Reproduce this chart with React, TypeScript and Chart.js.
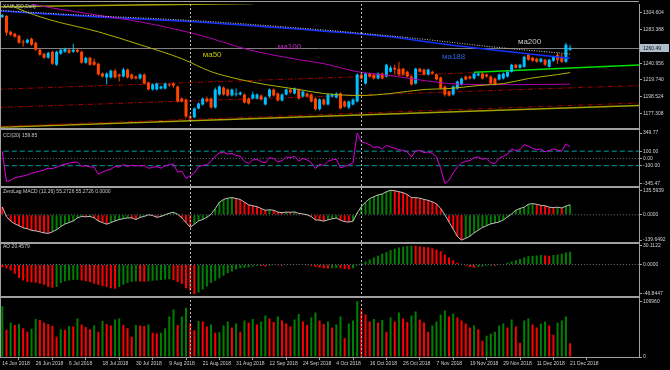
import { useEffect, useRef } from 'react';
import { Chart, registerables } from 'chart.js';

Chart.register(...registerables);

// ---------- axis labels ----------
const xTickBars = [0, 8, 16, 24, 32, 40, 48, 56, 64, 72, 80, 88, 96, 104, 112, 120, 128, 136];
const xTickLabels = ['14 Jun 2018', '26 Jun 2018', '6 Jul 2018', '18 Jul 2018', '30 Jul 2018', '9 Aug 2018', '21 Aug 2018', '31 Aug 2018', '12 Sep 2018', '24 Sep 2018', '4 Oct 2018', '16 Oct 2018', '26 Oct 2018', '7 Nov 2018', '19 Nov 2018', '29 Nov 2018', '11 Dec 2018', '21 Dec 2018'];
const priceTicks = [1304.604, 1283.388, 1262.172, 1240.956, 1219.74, 1198.524, 1177.308];
const cciTicks = [349.77, 100, 0, -100, -345.47];
const macdTicks = [135.5939, 0, -139.6492];
const aoTicks = [30.1122, 0, -46.8447];
const volTicks = [109960, 0];
const cciLevels = [100, -100];
const panelTitles = ['XAUUSD,Daily', 'CCI(20) 159.85', 'ZeroLag MACD (12,26) 55.2726 55.2726 0.0000', 'AO 20.4579'];

// ---------- price data (daily OHLC) ----------
const open = [1299.6, 1300.8, 1280.7, 1278.1, 1275.6, 1268.1, 1266.8, 1271.8, 1266.8, 1258.0, 1252.9, 1247.9, 1255.5, 1239.1, 1252.9, 1255.5, 1258.0, 1255.5, 1258.0, 1255.5, 1241.6, 1247.9, 1242.9, 1240.3, 1227.7, 1222.7, 1222.7, 1231.5, 1226.5, 1223.9, 1232.8, 1226.5, 1223.9, 1221.4, 1226.5, 1216.4, 1207.6, 1207.6, 1208.8, 1208.8, 1213.9, 1215.1, 1211.3, 1196.2, 1195.0, 1173.5, 1172.3, 1183.6, 1188.7, 1196.2, 1196.2, 1184.9, 1201.3, 1210.1, 1207.6, 1200.0, 1201.3, 1201.3, 1201.3, 1196.2, 1196.2, 1196.2, 1200.0, 1188.7, 1198.7, 1207.6, 1202.5, 1193.7, 1201.3, 1207.6, 1202.5, 1207.6, 1198.7, 1202.5, 1201.3, 1196.2, 1182.4, 1195.0, 1188.7, 1198.7, 1197.5, 1202.5, 1192.4, 1184.9, 1188.7, 1192.4, 1226.5, 1215.1, 1227.7, 1226.5, 1221.4, 1227.7, 1223.9, 1230.2, 1235.3, 1234.0, 1234.0, 1230.2, 1223.9, 1215.1, 1234.0, 1232.8, 1226.5, 1230.2, 1226.5, 1222.7, 1211.3, 1205.0, 1201.3, 1208.8, 1213.9, 1223.9, 1223.9, 1221.4, 1225.2, 1227.7, 1226.5, 1223.9, 1221.4, 1220.2, 1221.4, 1223.9, 1230.2, 1239.1, 1235.3, 1236.5, 1251.7, 1247.9, 1246.6, 1242.9, 1245.4, 1236.5, 1244.1, 1251.7, 1249.2, 1242.9, 1258.0];
const high = [1303.4, 1302.1, 1281.9, 1279.4, 1276.9, 1270.6, 1271.8, 1273.1, 1268.1, 1259.2, 1254.2, 1255.5, 1256.7, 1256.7, 1259.2, 1260.5, 1259.2, 1265.5, 1259.2, 1256.7, 1249.2, 1249.2, 1246.6, 1241.6, 1229.0, 1229.0, 1232.8, 1234.0, 1227.7, 1235.3, 1234.0, 1227.7, 1225.2, 1227.7, 1227.7, 1217.6, 1215.1, 1216.4, 1212.6, 1216.4, 1215.1, 1216.4, 1212.6, 1197.5, 1196.2, 1176.0, 1184.9, 1191.2, 1197.5, 1198.7, 1197.5, 1210.1, 1212.6, 1211.3, 1208.8, 1208.8, 1208.8, 1205.0, 1202.5, 1197.5, 1205.0, 1202.5, 1201.3, 1198.7, 1208.8, 1208.8, 1203.8, 1202.5, 1208.8, 1208.8, 1210.1, 1208.8, 1206.3, 1203.8, 1202.5, 1197.5, 1196.2, 1196.2, 1202.5, 1202.5, 1203.8, 1203.8, 1193.7, 1193.7, 1196.2, 1227.7, 1229.0, 1229.0, 1229.0, 1227.7, 1229.0, 1229.0, 1240.3, 1237.8, 1239.1, 1242.9, 1235.3, 1231.5, 1225.2, 1235.3, 1235.3, 1234.0, 1234.0, 1231.5, 1227.7, 1223.9, 1212.6, 1206.3, 1212.6, 1218.9, 1222.7, 1225.2, 1225.2, 1229.0, 1229.0, 1229.0, 1227.7, 1225.2, 1222.7, 1227.7, 1229.0, 1231.5, 1240.3, 1240.3, 1240.3, 1250.4, 1252.9, 1249.2, 1247.9, 1247.9, 1246.6, 1246.6, 1250.4, 1254.2, 1252.9, 1266.8, 1264.3];
const low = [1298.3, 1275.6, 1275.6, 1273.1, 1265.5, 1261.8, 1265.5, 1263.0, 1256.7, 1250.4, 1246.6, 1246.6, 1239.1, 1237.8, 1251.7, 1254.2, 1252.9, 1254.2, 1254.2, 1240.3, 1240.3, 1237.8, 1237.8, 1225.2, 1222.7, 1213.9, 1221.4, 1221.4, 1217.6, 1222.7, 1221.4, 1220.2, 1220.2, 1220.2, 1213.9, 1206.3, 1206.3, 1206.3, 1207.6, 1207.6, 1211.3, 1210.1, 1191.2, 1191.2, 1171.0, 1169.7, 1171.0, 1182.4, 1187.4, 1191.2, 1183.6, 1183.6, 1200.0, 1200.0, 1198.7, 1198.7, 1198.7, 1200.0, 1189.9, 1188.7, 1195.0, 1195.0, 1193.7, 1187.4, 1197.5, 1198.7, 1192.4, 1192.4, 1200.0, 1202.5, 1201.3, 1195.0, 1197.5, 1197.5, 1191.2, 1181.1, 1181.1, 1187.4, 1187.4, 1197.5, 1196.2, 1182.4, 1184.9, 1182.4, 1187.4, 1191.2, 1220.2, 1213.9, 1222.7, 1220.2, 1220.2, 1220.2, 1222.7, 1229.0, 1226.5, 1225.2, 1225.2, 1222.7, 1212.6, 1213.9, 1229.0, 1225.2, 1225.2, 1226.5, 1218.9, 1207.6, 1198.7, 1198.7, 1200.0, 1207.6, 1212.6, 1218.9, 1220.2, 1220.2, 1223.9, 1220.2, 1222.7, 1213.9, 1212.6, 1218.9, 1220.2, 1222.7, 1229.0, 1234.0, 1234.0, 1235.3, 1244.1, 1242.9, 1241.6, 1241.6, 1237.8, 1235.3, 1242.9, 1240.3, 1241.6, 1241.6, 1256.7];
const close = [1302.1, 1279.4, 1276.9, 1274.4, 1266.8, 1266.8, 1270.6, 1264.3, 1258.0, 1251.7, 1247.9, 1254.2, 1240.3, 1255.5, 1258.0, 1259.2, 1254.2, 1258.0, 1255.5, 1241.6, 1247.9, 1239.1, 1239.1, 1226.5, 1223.9, 1227.7, 1231.5, 1222.7, 1223.9, 1232.8, 1222.7, 1221.4, 1221.4, 1226.5, 1215.1, 1207.6, 1213.9, 1215.1, 1211.3, 1215.1, 1212.6, 1212.6, 1192.4, 1192.4, 1173.5, 1171.0, 1183.6, 1189.9, 1196.2, 1192.4, 1184.9, 1207.6, 1211.3, 1201.3, 1200.0, 1207.6, 1202.5, 1203.8, 1191.2, 1189.9, 1201.3, 1201.3, 1195.0, 1197.5, 1207.6, 1200.0, 1193.7, 1201.3, 1207.6, 1203.8, 1208.8, 1196.2, 1205.0, 1198.7, 1192.4, 1182.4, 1195.0, 1188.7, 1201.3, 1201.3, 1202.5, 1183.6, 1186.1, 1192.4, 1195.0, 1226.5, 1221.4, 1227.7, 1223.9, 1221.4, 1227.7, 1221.4, 1239.1, 1235.3, 1232.8, 1226.5, 1226.5, 1223.9, 1213.9, 1234.0, 1230.2, 1226.5, 1232.8, 1227.7, 1220.2, 1208.8, 1201.3, 1200.0, 1211.3, 1217.6, 1221.4, 1220.2, 1221.4, 1227.7, 1227.7, 1221.4, 1223.9, 1215.1, 1213.9, 1226.5, 1227.7, 1230.2, 1239.1, 1235.3, 1239.1, 1249.2, 1245.4, 1244.1, 1242.9, 1246.6, 1239.1, 1245.4, 1249.2, 1245.4, 1242.9, 1264.3, 1260.49];

// ---------- indicators ----------
const volume = [100000, 54000, 68000, 63000, 65000, 57000, 50000, 56000, 75000, 73000, 68000, 65000, 61000, 40000, 55000, 54000, 61000, 60000, 76000, 64000, 59000, 55000, 62000, 50000, 71000, 65000, 62000, 74000, 76000, 63000, 57000, 40000, 63000, 62000, 61000, 64000, 48000, 47000, 48000, 57000, 80000, 94000, 63000, 80000, 97000, 67000, 53000, 71000, 70000, 60000, 64000, 48000, 49000, 62000, 70000, 58000, 66000, 50000, 72000, 68000, 75000, 64000, 70000, 82000, 76000, 69000, 80000, 72000, 66000, 60000, 74000, 85000, 70000, 63000, 78000, 88000, 72000, 65000, 70000, 58000, 64000, 80000, 37000, 66000, 72000, 109960, 92000, 84000, 70000, 75000, 68000, 73000, 50000, 78000, 70000, 88000, 76000, 69000, 82000, 90000, 74000, 68000, 50000, 62000, 70000, 84000, 92000, 80000, 86000, 78000, 72000, 66000, 58000, 62000, 55000, 32000, 42000, 46000, 50000, 62000, 66000, 58000, 74000, 60000, 28000, 72000, 76000, 64000, 58000, 66000, 70000, 62000, 44000, 68000, 72000, 80000, 27000];
const cci = [100, -320, -300, -266, -255, -242, -225, -205, -190, -175, -160, -135, -140, -120, -95, -80, -65, -55, -48, -110, -100, -115, -120, -220, -185, -165, -150, -110, -120, -85, -110, -95, -100, -105, -95, -135, -125, -110, -135, -100, -90, -75, -190, -175, -275, -240, -200, -115, -95, -85, -40, 30, 75, 85, 60, 70, 40, 30, -40, -70, -20, -15, -45, -60, 10, 0, -50, -30, 20, 10, 30, -40, 0, -20, -60, -140, -80, -100, -40, -20, -10, -130, -110, -90, -60, 349.77, 230, 210, 190, 150, 160, 130, 180, 160, 140, 120, 110, 90, 20, 100, 110, 80, 90, 70, 20, -140, -345.47, -300, -200, -120, -60, -40, -30, 10, 20, -10, 0, -60, -70, 0, 30, 60, 130, 110, 120, 190, 170, 140, 120, 130, 90, 110, 130, 115, 100, 200, 159.85];
const macd = [43, -9, -35, -50, -60, -72, -77, -86, -89, -94, -100, -103, -94, -82, -65, -51, -43, -34, -17, -9, -11, -9, -17, -34, -43, -52, -43, -34, -26, -21, -17, -17, -26, -14, -9, 0, -4, -14, -9, 0, 9, 14, 3, -17, -43, -69, -52, -34, -26, -14, 3, 34, 69, 85, 92, 95, 90, 85, 70, 55, 50, 45, 35, 25, 28, 25, 15, 12, 15, 14, 16, 8, 5, 0, -10, -28, -30, -35, -28, -22, -18, -30, -38, -40, -35, 10, 45, 70, 90, 100, 110, 115, 128, 135.5939, 133, 128, 122, 112, 95, 95, 92, 85, 80, 72, 60, 35, 0, -40, -80, -120, -139.6492, -130, -118, -100, -85, -70, -60, -50, -45, -40, -28, -12, 5, 25, 35, 42, 58, 62, 58, 52, 50, 42, 40, 42, 38, 48, 55.2726];
const ao = [-4.2, -5.8, -9.5, -14.8, -21.6, -25.4, -28.0, -28.5, -29.1, -30.6, -32.2, -36.0, -37.0, -36.0, -29.6, -26.5, -25.5, -24.8, -24.2, -25.5, -26.5, -28.0, -30.6, -32.2, -34.3, -36.0, -38.0, -38.8, -36.0, -32.2, -29.6, -28.0, -26.5, -27.0, -27.5, -26.5, -26.0, -25.4, -24.8, -23.9, -23.5, -25.0, -28.0, -31.0, -38.0, -41.7, -46.8447, -44.4, -40.0, -35.0, -29.6, -26.0, -22, -18, -14, -11, -8, -6, -5, -4.5, -3, -2, -2.5, -3, -2, -1, -1.5, -2, -1, 0.5, 1, 0.5, 0, -1, -2, -4, -5, -6, -6.5, -6, -5.5, -6, -7, -7.5, -6, -2, 2, 5, 8, 11, 14, 17, 20, 23, 25, 27, 28.5, 29.5, 30.1122, 29.8, 29, 28, 27.5, 26, 24, 21, 16, 11, 7, 3, 0, -2, -4, -5, -4, -3, -2, -1.5, -2, -1, 1, 3, 5, 7, 9, 11, 13, 14, 14.5, 15, 14.5, 14, 15, 16, 17, 19, 20.4579];

// ---------- moving averages (sampled along the curves) ----------
const ma50Bars = [2, 4, 11, 23, 33, 43, 50, 57, 63, 71, 77, 86, 93, 101, 107, 114, 120, 126, 133, 136];
const ma50Vals = [1314.7, 1309.6, 1296.5, 1280.7, 1264.3, 1246.6, 1230.2, 1220.2, 1213.9, 1207.6, 1202.5, 1200.0, 1202.5, 1207.6, 1208.8, 1212.6, 1215.1, 1221.4, 1226.5, 1229.0];
const ma100Bars = [4, 7, 21, 33, 47, 59, 71, 77, 85, 93, 101, 107, 114, 122, 128, 136];
const ma100Vals = [1320.0, 1315.9, 1303.3, 1293.3, 1276.9, 1258.0, 1245.4, 1240.3, 1230.2, 1225.2, 1218.9, 1215.1, 1213.9, 1213.7, 1213.9, 1214.4];
const ma188Bars = [-1, 23, 46, 69, 93, 105, 117, 136];
const ma188Vals = [1307.2, 1299.6, 1293.3, 1284.8, 1274.4, 1265.5, 1258.0, 1247.3];
const ma200Bars = [-1, 18, 47, 69, 85, 101, 117, 136];
const ma200Vals = [1307.9, 1302.1, 1294.5, 1286.3, 1279.4, 1271.2, 1261.8, 1252.6];

// ---------- trend lines [startBar, startPrice, endBar, endPrice] ----------
const redLines = [[-1, 1207.8, 113, 1228.9], [-1, 1184.8, 153, 1212.7], [-1, 1160.8, 153, 1190.6]];
const oliveLines = [[-1, 1159.5, 153, 1187.5], [-1, 1312.5, 60, 1316.6]];
const greenLine = [113, 1229.4, 153, 1238.7];
const vLineBars = [45, 86];
const maLabels = [
  { text: 'ма50', bar: 48, price: 1251.7, color: '#c4c400' },
  { text: 'ма100', bar: 66, price: 1261.1, color: '#c020c0' },
  { text: 'ма188', bar: 105.3, price: 1248.5, color: '#2a64dc' },
  { text: 'ма200', bar: 123.5, price: 1268.1, color: '#c8c8c8' },
];

// ---------- styling ----------
const X_MIN = -0.55;
const X_MAX = 152.5;
const FONT = '"Liberation Sans", Arial, sans-serif';
const UP = '#00bfff';
const DOWN = '#ff4500';
const GREEN = '#008000';
const RED = '#ff0000';
const AXIS = '#a0a0a0';
const TXT = '#d0d0d0';

const bars = close.map((_, i) => i);
const candleColors = bars.map((i) => (close[i] >= open[i] ? UP : DOWN));
const rising = (arr: number[], first: boolean) => arr.map((v, i) => ((i === 0 ? first : v > arr[i - 1]) ? GREEN : RED));
const pts = (xs: number[], ys: number[]) => xs.map((x, i) => ({ x, y: ys[i] }));
const series = (arr: number[]) => arr.map((y, x) => ({ x, y }));
const hline = (v: number) => [{ x: X_MIN - 1, y: v }, { x: X_MAX + 1, y: v }];
const seg = (s: number[]) => [{ x: s[0], y: s[1] }, { x: s[2], y: s[3] }];

const lineDs = (data: any[], axis: string, color: string, width: number, dash: number[], order: number, smooth = false) => ({
  type: 'line', data, yAxisID: axis, xAxisID: 'x', borderColor: color, borderWidth: width, borderDash: dash,
  pointRadius: 0, pointHoverRadius: 0, fill: false, order, tension: smooth ? 0.4 : 0,
  cubicInterpolationMode: smooth ? 'monotone' : 'default', spanGaps: true,
});
const barDs = (data: any[], axis: string, colors: any, thickness: number, order: number, extra: any = {}) => ({
  type: 'bar', data, yAxisID: axis, xAxisID: 'x', backgroundColor: colors, borderWidth: 0,
  barThickness: thickness, grouped: false, inflateAmount: 0, order, ...extra,
});

const yAxis = (ticks: number[], digits: number, min: number, max: number, weight: number, stackWeight: number) => ({
  type: 'linear', position: 'right', stack: 'panels', stackWeight, weight, min, max,
  grid: { drawOnChartArea: false, drawTicks: true, tickLength: 3, color: AXIS },
  border: { display: true, color: AXIS },
  ticks: { autoSkip: false, padding: 1, color: TXT, font: { family: FONT, size: 5 }, callback: (v: any) => Number(v).toFixed(digits) },
  afterBuildTicks: (s: any) => { s.ticks = ticks.map((value) => ({ value })); },
  afterFit: (s: any) => { s.width = 31; },
});

const overlay = {
  id: 'mt4overlay',
  beforeDatasetsDraw(chart: any) {
    const { ctx, chartArea: a, scales } = chart;
    const y = Math.round(scales.yMain.getPixelForValue(close[close.length - 1])) + 0.5;
    ctx.save();
    ctx.strokeStyle = '#808080';
    ctx.lineWidth = 1;
    ctx.beginPath();
    ctx.moveTo(a.left, y);
    ctx.lineTo(a.right, y);
    ctx.stroke();
    ctx.restore();
  },
  afterDatasetsDraw(chart: any) {
    const { ctx, chartArea: a, scales } = chart;
    ctx.save();
    ctx.strokeStyle = '#b8b8b8';
    ctx.lineWidth = 1;
    ctx.setLineDash([2, 2]);
    for (const b of vLineBars) {
      const x = Math.round(scales.x.getPixelForValue(b)) + 0.5;
      ctx.beginPath();
      ctx.moveTo(x, a.top);
      ctx.lineTo(x, a.bottom);
      ctx.stroke();
    }
    ctx.setLineDash([]);
    ctx.fillStyle = AXIS;
    ctx.fillRect(a.left, 1, a.right - a.left, 1);
    ctx.fillRect(a.left, 1, 1, a.bottom - 1);
    for (const id of ['yCCI', 'yMACD', 'yAO', 'yVol']) {
      const t = Math.round(scales[id].top);
      ctx.fillRect(a.left, t - 1, a.right - a.left, 2);
    }
    ctx.font = `5px ${FONT}`;
    ctx.fillStyle = '#c8c8c8';
    ctx.textAlign = 'left';
    ctx.textBaseline = 'middle';
    const ids = ['yMain', 'yCCI', 'yMACD', 'yAO'];
    const offs = [3, 6, 5, 4];
    panelTitles.forEach((t, i) => ctx.fillText(t, 3, scales[ids[i]].top + offs[i]));
    ctx.font = `8px ${FONT}`;
    for (const l of maLabels) {
      ctx.fillStyle = l.color;
      ctx.fillText(l.text, scales.x.getPixelForValue(l.bar), scales.yMain.getPixelForValue(l.price));
    }
    ctx.restore();
  },
  afterDraw(chart: any) {
    const { ctx, chartArea: a, scales } = chart;
    const last = close[close.length - 1];
    const y = Math.round(scales.yMain.getPixelForValue(last));
    ctx.save();
    ctx.fillStyle = '#aebdcc';
    ctx.fillRect(a.right + 1, y - 4, 29, 8);
    ctx.fillStyle = '#101010';
    ctx.font = `5px ${FONT}`;
    ctx.textAlign = 'left';
    ctx.textBaseline = 'middle';
    ctx.fillText(last.toFixed(2), a.right + 4, y + 0.5);
    ctx.restore();
  },
};

export default function App() {
  const ref = useRef<HTMLCanvasElement>(null);
  useEffect(() => {
    const datasets: any[] = [
      ...cciLevels.map((v) => lineDs(hline(v), 'yCCI', '#00a0a0', 1, [5, 3], 40)),
      lineDs(hline(0), 'yCCI', '#6c7c8c', 1, [1, 2], 40),
      lineDs(hline(0), 'yMACD', '#6c7c8c', 1, [1, 2], 40),
      lineDs(hline(0), 'yAO', '#6c7c8c', 1, [1, 2], 40),
      ...redLines.map((s) => lineDs(seg(s), 'yMain', '#a00000', 1, [5, 2, 1, 2], 35)),
      ...oliveLines.map((s) => lineDs(seg(s), 'yMain', '#a4a400', 1.5, [], 35)),
      lineDs(seg(greenLine), 'yMain', '#00e000', 1.5, [], 35),
      barDs(bars.map((i) => ({ x: i, y: [low[i], high[i]] })), 'yMain', candleColors, 1, 30),
      barDs(bars.map((i) => ({ x: i, y: [Math.min(open[i], close[i]), Math.max(open[i], close[i])] })), 'yMain', candleColors, 3, 29, { minBarLength: 1 }),
      lineDs(pts(ma50Bars, ma50Vals), 'yMain', '#b0b000', 1, [], 10, true),
      lineDs(pts(ma100Bars, ma100Vals), 'yMain', '#b000b0', 1, [], 10, true),
      lineDs(pts(ma188Bars, ma188Vals), 'yMain', '#1430ff', 1.5, [], 10, true),
      lineDs(pts(ma200Bars, ma200Vals), 'yMain', '#c8c8c8', 1, [1, 1.5], 9, true),
      lineDs(series(cci), 'yCCI', '#e000e0', 1, [], 5),
      barDs(series(macd), 'yMACD', rising(macd, false), 2, 8),
      lineDs(series(macd), 'yMACD', '#c0c0c0', 1, [], 5),
      barDs(series(ao), 'yAO', rising(ao, false), 2, 8),
      barDs(series(volume), 'yVol', rising(volume, true), 2, 8),
    ];
    const chart = new Chart(ref.current as HTMLCanvasElement, {
      type: 'bar',
      data: { datasets },
      options: {
        animation: false,
        responsive: false,
        devicePixelRatio: 1,
        events: [],
        layout: { padding: { top: 2, left: 0, right: 0, bottom: 0 } },
        plugins: { legend: { display: false }, tooltip: { enabled: false } },
        scales: {
          x: {
            type: 'linear', position: 'bottom', min: X_MIN, max: X_MAX, offset: false,
            grid: { drawOnChartArea: false, drawTicks: true, tickLength: 3, color: AXIS },
            border: { display: true, color: AXIS },
            ticks: {
              autoSkip: false, maxRotation: 0, minRotation: 0, align: 'start', padding: 1, color: TXT,
              font: { family: FONT, size: 5 },
              callback: (v: any) => { const k = xTickBars.indexOf(Number(v)); return k >= 0 ? xTickLabels[k] : ''; },
            },
            afterBuildTicks: (s: any) => { s.ticks = xTickBars.map((value) => ({ value })); },
            afterFit: (s: any) => { s.height = 13; },
          },
          yMain: yAxis(priceTicks, 3, 1157.14, 1315.95, 1, 126),
          yCCI: yAxis(cciTicks, 2, -393.2, 401.4, 2, 58),
          yMACD: yAxis(macdTicks, 4, -154, 154, 3, 56),
          yAO: yAxis(aoTicks, 4, -52.3, 34.87, 4, 55),
          yVol: yAxis(volTicks, 0, 0, 117800, 5, 60),
        } as any,
      },
      plugins: [overlay],
    } as any);
    return () => chart.destroy();
  }, []);
  return (
    <div style={{ position: 'fixed', left: 0, top: 0, width: 670, height: 370, background: '#000' }}>
      <canvas ref={ref} width={670} height={370} style={{ display: 'block', width: 670, height: 370 }} />
    </div>
  );
}
